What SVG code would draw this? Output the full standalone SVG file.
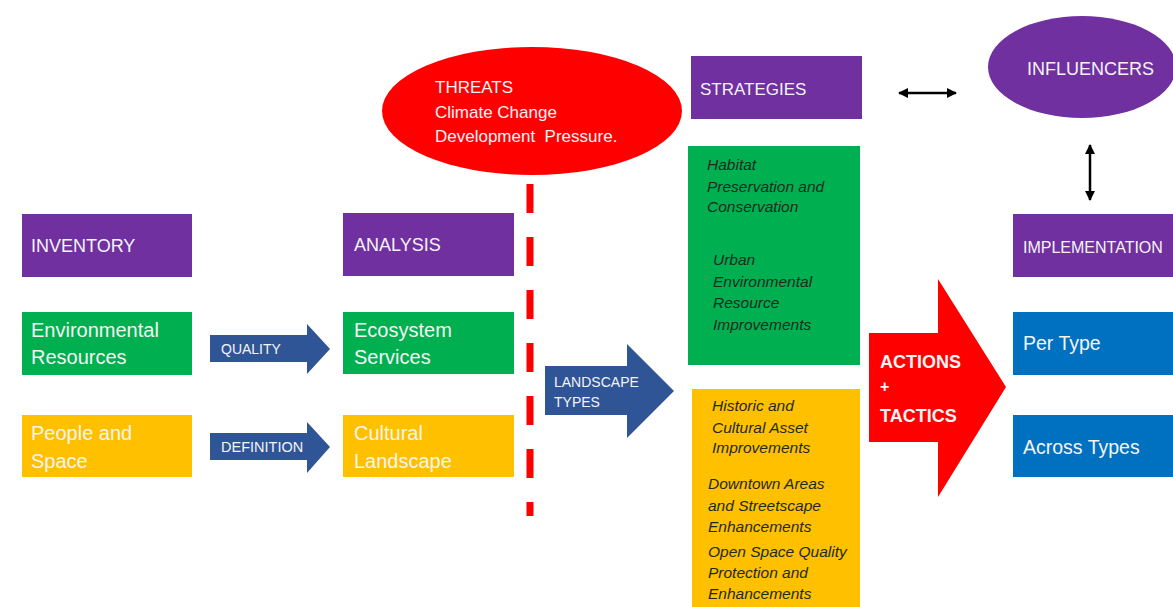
<svg xmlns="http://www.w3.org/2000/svg" width="1173" height="607" viewBox="0 0 1173 607">
<defs>
<style>
.t{font-family:"Liberation Sans",Arial,sans-serif;fill:#f4f4f4}
.i{font-family:"Liberation Sans",Arial,sans-serif;font-style:italic;fill:#1e2a1e;font-size:15.5px}
.pu{fill:#7030A0}.gr{fill:#00B050}.ye{fill:#FFC000}.bl{fill:#0070C0}.ar{fill:#2F5597}.rd{fill:#FF0000}
.con{stroke:#000;stroke-width:2.5;fill:none}
</style>
<marker id="ah" viewBox="0 0 10 10" refX="9" refY="5" markerWidth="4" markerHeight="4" orient="auto-start-reverse"><path d="M0,0L10,5L0,10z" fill="#000"/></marker>
</defs>
<rect width="1173" height="607" fill="#fff"/>

<g id="inventory"><rect class="pu" x="22" y="214" width="170" height="63"/><text class="t" x="31" y="252" font-size="18">INVENTORY</text></g>
<g id="env-resources"><rect class="gr" x="22" y="312" width="170" height="63"/><text class="t" x="31" y="337" font-size="20">Environmental</text><text class="t" x="31" y="364" font-size="20">Resources</text></g>
<g id="people-space"><rect class="ye" x="22" y="415" width="170" height="62"/><text class="t" x="31" y="440" font-size="20">People and</text><text class="t" x="31" y="468" font-size="20">Space</text></g>

<g id="quality"><path class="ar" d="M210,335H307V324L330,349L307,374V362H210Z"/><text class="t" x="221" y="354" font-size="14">QUALITY</text></g>
<g id="definition"><path class="ar" d="M210,433H307V422L330,447L307,473V460H210Z"/><text class="t" x="221" y="452" font-size="14.5">DEFINITION</text></g>

<g id="analysis"><rect class="pu" x="343" y="213" width="171" height="63"/><text class="t" x="354" y="251" font-size="18">ANALYSIS</text></g>
<g id="ecosystem"><rect class="gr" x="343" y="312" width="171" height="62"/><text class="t" x="354" y="337" font-size="20">Ecosystem</text><text class="t" x="354" y="364" font-size="20">Services</text></g>
<g id="cultural"><rect class="ye" x="343" y="415" width="171" height="62"/><text class="t" x="354" y="440" font-size="20">Cultural</text><text class="t" x="354" y="468" font-size="20">Landscape</text></g>

<g id="threats"><ellipse class="rd" cx="532" cy="111" rx="150" ry="64"/><text class="t" x="435" y="93" font-size="17">THREATS</text><text class="t" x="435" y="118" font-size="17">Climate Change</text><text class="t" x="435" y="142" font-size="17" xml:space="preserve">Development  Pressure.</text></g>

<g id="landscape-types"><path class="ar" d="M545,366H627V344L674,391L627,438V415H545Z"/><text class="t" x="554" y="387" font-size="14">LANDSCAPE</text><text class="t" x="554" y="407" font-size="14">TYPES</text></g>

<g id="strategies"><rect class="pu" x="691" y="56" width="171" height="63"/><text class="t" x="700" y="95" font-size="17">STRATEGIES</text></g>
<g id="green-strategies"><rect class="gr" x="688" y="146" width="172" height="219"/>
<text class="i" x="707" y="170">Habitat</text><text class="i" x="707" y="192">Preservation and</text><text class="i" x="707" y="212">Conservation</text>
<text class="i" x="713" y="265">Urban</text><text class="i" x="713" y="287">Environmental</text><text class="i" x="713" y="308">Resource</text><text class="i" x="713" y="330">Improvements</text></g>
<g id="yellow-strategies"><rect class="ye" x="692" y="389" width="168" height="218"/>
<text class="i" x="712" y="411">Historic and</text><text class="i" x="712" y="433">Cultural Asset</text><text class="i" x="712" y="453">Improvements</text>
<text class="i" x="708" y="489">Downtown Areas</text><text class="i" x="708" y="511">and Streetscape</text><text class="i" x="708" y="532">Enhancements</text>
<text class="i" x="708" y="557">Open Space Quality</text><text class="i" x="708" y="578">Protection and</text><text class="i" x="708" y="599">Enhancements</text></g>

<g id="actions-tactics"><path class="rd" d="M869,333H938V279L1006,387L938,497V442H869Z"/><text class="t" x="880" y="368" font-size="18" font-weight="bold">ACTIONS</text><text class="t" x="880" y="392" font-size="16" font-weight="bold">+</text><text class="t" x="880" y="422" font-size="18" font-weight="bold">TACTICS</text></g>

<g id="influencers"><ellipse class="pu" cx="1082" cy="67" rx="94" ry="51"/><text class="t" x="1027" y="75" font-size="18">INFLUENCERS</text></g>
<g id="implementation"><rect class="pu" x="1013" y="214" width="165" height="63"/><text class="t" x="1023" y="253" font-size="16">IMPLEMENTATION</text></g>
<g id="per-type"><rect class="bl" x="1013" y="312" width="165" height="63"/><text class="t" x="1023" y="350" font-size="19.5">Per Type</text></g>
<g id="across-types"><rect class="bl" x="1013" y="415" width="165" height="62"/><text class="t" x="1023" y="454" font-size="19.5">Across Types</text></g>

<g id="connectors">
<line x1="530" y1="184" x2="530" y2="516" stroke="#FF0000" stroke-width="7" stroke-dasharray="29 24"/>
<line class="con" x1="899" y1="93" x2="956" y2="93" marker-start="url(#ah)" marker-end="url(#ah)"/>
<line class="con" x1="1090" y1="145" x2="1090" y2="200" marker-start="url(#ah)" marker-end="url(#ah)"/>
</g>
</svg>
